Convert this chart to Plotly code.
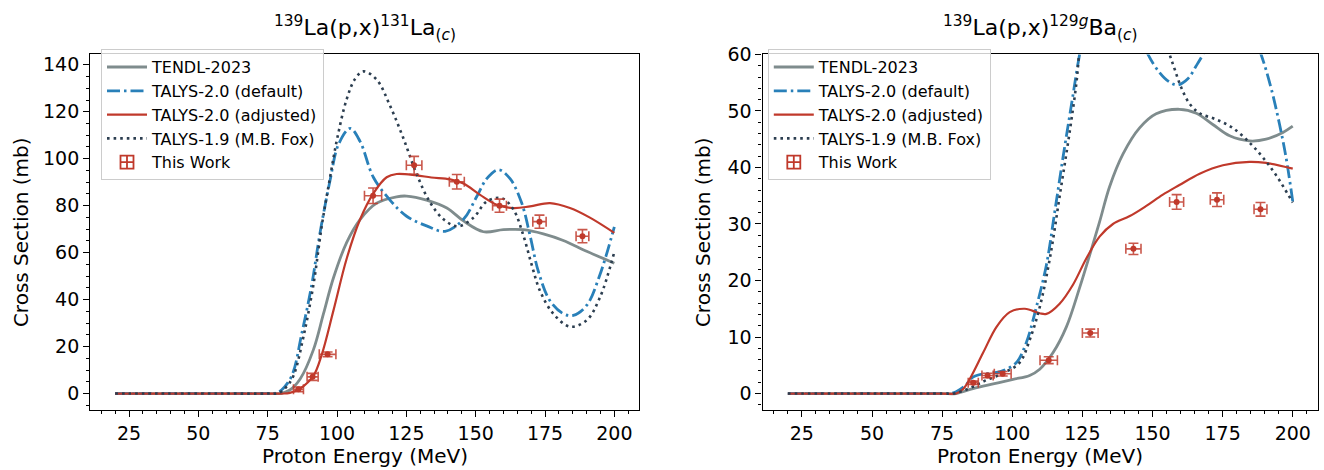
import plotly.graph_objects as go

# ---------------- measured cross sections (This Work) ----------------
energy = [86.1, 91.2, 96.6, 113.0, 127.8, 143.2, 158.6, 173.0, 188.5]
energy_err = [1.8, 2.0, 3.0, 3.1, 2.8, 2.7, 2.5, 2.4, 2.3]

la131_xs = [1.8, 7.1, 16.7, 84.2, 97.2, 90.2, 80.0, 73.2, 67.0]
la131_err = [1.0, 1.5, 1.0, 3.3, 3.8, 3.1, 2.8, 2.8, 2.8]

ba129_xs = [1.9, 3.2, 3.5, 5.9, 10.7, 25.6, 33.9, 34.3, 32.6]
ba129_err = [0.3, 0.4, 0.4, 0.6, 0.7, 1.0, 1.3, 1.2, 1.2]

# ---------------- model curves: 139La(p,x)131La ----------------
la_tendl_e = [20, 40, 60, 75, 80, 83, 86.7, 91.5, 95.1, 98.7, 103.5, 108.3, 114.3,
              121.5, 125.1, 132.3, 139.6, 145.6, 152.8, 160, 167.2, 174.4, 181.6, 190, 200]
la_tendl_xs = [0, 0, 0, 0, 0.1, 1.5, 6.2, 18.7, 33.9, 49.2, 64.4, 74.1, 81.1,
               83.8, 84.1, 82.4, 79, 73.5, 68.9, 69.8, 69.8, 68, 65.2, 60.6, 55.5]

la_def_e = [20, 40, 60, 75, 78, 80, 83.7, 87.3, 90.9, 93.9, 97.5, 100.5, 104.7, 108.3,
            113.1, 119.1, 125.1, 132.3, 139, 145.6, 150.4, 154, 158.2, 162.4, 166.6,
            169.6, 172.6, 176.8, 181.6, 185.2, 190, 194.8, 200]
la_def_xs = [0, 0, 0, 0, 0.2, 1.5, 7.6, 25.6, 46.4, 68.6, 90.8, 106, 112.9, 107.4,
             92.1, 82.4, 75.5, 71.4, 69.1, 74.2, 83.9, 91.5, 95.3, 91.5, 81.1,
             67.3, 52, 39.5, 34, 33.3, 37.5, 50.6, 71]

la_adj_e = [20, 40, 60, 75, 80, 83, 86.7, 91.5, 94.5, 98.7, 103.5, 108.3, 113.1, 117.9,
            121.5, 128.7, 134, 140.8, 145.6, 151.6, 157.6, 163.6, 169.6, 176.8, 184, 191.2, 200]
la_adj_xs = [0, 0, 0, 0, 0, 0.3, 2.1, 7.6, 16.6, 35.3, 57.5, 74.1, 85.2, 92.1,
             93.5, 92.9, 92.0, 91.2, 89.4, 84.6, 80.4, 79, 79.7, 81.1, 79, 74.9, 68.4]

la_fox_e = [20, 40, 60, 75, 79, 81.5, 84.3, 87.9, 91.5, 94.5, 97.5, 100.1, 103.5, 106.5,
            109.5, 114.3, 119.1, 123.9, 128.7, 133.5, 138.4, 143.5, 149.2, 154, 159.4,
            163.6, 167.2, 170.2, 173.2, 178, 184, 190, 194.8, 200]
la_fox_xs = [0, 0, 0, 0, 0.2, 2.5, 7.6, 24.2, 46.4, 71.4, 92.1, 108.8, 125.4, 134,
             137.2, 133.7, 122.6, 108.8, 93.5, 81.5, 74.2, 71.2, 74.9, 81.8, 83.2,
             78.4, 67.3, 54.8, 43.7, 34, 28.5, 31.2, 40.9, 60.3]

# ---------------- model curves: 139La(p,x)129gBa ----------------
ba_tendl_e = [20, 40, 60, 75, 80, 86, 93.2, 100.3, 106.2, 109.8, 114.5, 119.3, 124,
              127.6, 131.2, 134.7, 139.5, 145.4, 151.3, 159.6, 165.6, 171.5, 177.5,
              184.6, 190.5, 196.5, 200]
ba_tendl_xs = [0, 0, 0, 0, 0, 0.86, 1.7, 2.5, 3.2, 4.3, 7.2, 11.8, 18.7,
               24.5, 30.5, 36.6, 42.4, 47, 49.5, 50.3, 49.6, 47.6, 45.6,
               44.7, 45, 46.2, 47.3]

ba_def_e = [20, 40, 60, 75, 78, 80, 83, 86, 89.6, 93, 97, 101.5, 105, 108.6, 112.2,
            115.1, 118.1, 121.1, 124, 127, 130, 134, 137, 140, 145, 148.4, 152.5,
            156.1, 159, 162.6, 165.6, 168, 172, 176, 180, 184, 188.7, 192.3, 195.3,
            197.6, 200]
ba_def_xs = [0, 0, 0, 0, 0, 0.3, 1.3, 2.9, 3.45, 3.6, 4.1, 5.5, 9.0, 15.3, 22.8,
             32, 41.8, 51.1, 60, 67.5, 72, 74, 73, 70, 64.3, 60, 56.8,
             55.1, 54.6, 55.7, 58, 60, 63.9, 66.5, 67.2, 65.6, 60, 54, 47.6,
             41.8, 34]

ba_adj_e = [20, 40, 60, 75, 80, 82.5, 84.9, 89.6, 94.4, 99.1, 104.5, 109.8, 112.2,
            116.9, 121.7, 126.4, 131.2, 135.9, 141.9, 147.8, 153.7, 159.6, 166.8,
            175.1, 184.6, 190.5, 200]
ba_adj_xs = [0, 0, 0, 0, 0, 0.8, 2.6, 7.2, 11.8, 14.4, 15.0, 14.2, 14.1,
             15.9, 19.3, 23.9, 27.8, 30, 31.4, 33.2, 35.2, 36.9, 38.9,
             40.4, 41, 40.8, 39.8]

ba_fox_e = [20, 40, 60, 75, 79, 82, 86, 90, 94, 98, 102.7, 106.3, 109.8, 113.4, 116.9,
            120.5, 122.9, 124, 127, 130, 134, 138, 142, 146, 150, 153, 156.1, 157.9,
            160.2, 163.2, 166.8, 172.7, 178.6, 184.6, 189.3, 194.1, 200]
ba_fox_xs = [0, 0, 0, 0, 0, 0.4, 1.2, 2.2, 3.0, 3.9, 5.5, 9.6, 15.3, 23.9, 34.9,
             46.4, 55.1, 60.9, 72.6, 81.1, 86.8, 87.1, 83.7, 77.7, 70.4, 65, 60, 57.4,
             54.2, 51.3, 49.6, 48.5, 47, 44.4, 41.8, 38.6, 33.8]

# ---------------- styling ----------------
FONT = "DejaVu Sans"
GREY = "#7f8c8d"
BLUE = "#2980b9"
RED = "#c0392b"
NAVY = "#2c3e50"
ERR_RED = "rgba(192,57,43,0.85)"

W, H = 1324, 470

panels = [
    dict(xa="x", ya="y", legend="legend",
         curves=[(la_tendl_e, la_tendl_xs), (la_def_e, la_def_xs),
                 (la_adj_e, la_adj_xs), (la_fox_e, la_fox_xs)],
         xs=la131_xs, err=la131_err),
    dict(xa="x2", ya="y2", legend="legend2",
         curves=[(ba_tendl_e, ba_tendl_xs), (ba_def_e, ba_def_xs),
                 (ba_adj_e, ba_adj_xs), (ba_fox_e, ba_fox_xs)],
         xs=ba129_xs, err=ba129_err),
]

curve_styles = [
    ("TENDL-2023", dict(color=GREY, width=2.8)),
    ("TALYS-2.0 (default)", dict(color=BLUE, width=2.8, dash="13px,4px,2.5px,4px")),
    ("TALYS-2.0 (adjusted)", dict(color=RED, width=2.2)),
    ("TALYS-1.9 (M.B. Fox)", dict(color=NAVY, width=2.6, dash="2.6px,4px")),
]

fig = go.Figure()
for p in panels:
    for (name, style), (e, xs) in zip(curve_styles, p["curves"]):
        fig.add_trace(go.Scatter(
            x=e, y=xs, mode="lines", name=name,
            line=dict(shape="spline", smoothing=1.0, **style),
            xaxis=p["xa"], yaxis=p["ya"], legend=p["legend"],
        ))
    # measured points with energy and cross-section uncertainties
    fig.add_trace(go.Scatter(
        x=energy, y=p["xs"], mode="markers", name="This Work", showlegend=False,
        marker=dict(symbol="circle", size=6, color=RED),
        error_x=dict(type="data", array=energy_err, color=ERR_RED, thickness=1.6, width=5),
        error_y=dict(type="data", array=p["err"], color=ERR_RED, thickness=1.6, width=5),
        xaxis=p["xa"], yaxis=p["ya"],
    ))
    # legend entry for the measured data
    fig.add_trace(go.Scatter(
        x=[None], y=[None], mode="markers", name="This Work",
        marker=dict(symbol="square-cross-open", size=13, color=RED, line=dict(width=1.8)),
        xaxis=p["xa"], yaxis=p["ya"], legend=p["legend"],
    ))

# plot-area placement (pixels)
left_px = (90.2, 639.3)
right_px = (762.6, 1318.0)
top_px, bottom_px = 44.5, 408.3
ydom = [(H - bottom_px) / H, (H - top_px) / H]

axis_common = dict(
    showline=True, linecolor="black", linewidth=1.3, mirror=True,
    ticks="outside", ticklen=6, tickwidth=1.3, tickcolor="black",
    showgrid=False, zeroline=False,
    tickfont=dict(family=FONT, size=19, color="black"),
)

legend_common = dict(
    xanchor="left", yanchor="top", y=(H - 39) / H,
    bgcolor="rgba(255,255,255,0.8)", bordercolor="#cccccc", borderwidth=1,
    font=dict(family=FONT, size=16, color="black"), tracegroupgap=0, itemwidth=40,
)

fig.update_layout(
    width=W, height=H,
    margin=dict(l=0, r=0, t=0, b=0),
    paper_bgcolor="white", plot_bgcolor="white",
    font=dict(family=FONT, color="black"),
    showlegend=True,
    xaxis=dict(domain=[left_px[0] / W, left_px[1] / W], anchor="y",
               range=[11, 209], tick0=0, dtick=25,
               minor=dict(dtick=5, ticklen=3.5, tickwidth=1.1, tickcolor="black", ticks="outside"),
               **axis_common),
    yaxis=dict(domain=ydom, anchor="x", range=[-6.9, 144.4], tick0=0, dtick=20,
               minor=dict(dtick=5, ticklen=3.5, tickwidth=1.1, tickcolor="black", ticks="outside"),
               **axis_common),
    xaxis2=dict(domain=[right_px[0] / W, right_px[1] / W], anchor="y2",
                range=[11, 209], tick0=0, dtick=25,
                minor=dict(dtick=5, ticklen=3.5, tickwidth=1.1, tickcolor="black", ticks="outside"),
                **axis_common),
    yaxis2=dict(domain=ydom, anchor="x2", range=[-2.87, 60], tick0=0, dtick=10,
                minor=dict(dtick=2, ticklen=3.5, tickwidth=1.1, tickcolor="black", ticks="outside"),
                **axis_common),
    legend=dict(x=101 / W, **legend_common),
    legend2=dict(x=767.8 / W, **legend_common),
)

titles = [
    "<sup>139</sup>La(p,x)<sup>131</sup>La<sub>(<i>c</i>)</sub>",
    "<sup>139</sup>La(p,x)<sup>129<i>g</i></sup>Ba<sub>(<i>c</i>)</sub>",
]
for (x0, x1), title, ylab_x in zip([left_px, right_px], titles, [21, 703]):
    cx = (x0 + x1) / 2 / W
    fig.add_annotation(text=title, x=cx, y=ydom[1], xref="paper", yref="paper",
                       xanchor="center", yanchor="bottom", yshift=8, showarrow=False,
                       font=dict(family=FONT, size=22, color="black"))
    fig.add_annotation(text="Proton Energy (MeV)", x=cx, y=(H - 456) / H,
                       xref="paper", yref="paper", xanchor="center", yanchor="middle",
                       showarrow=False, font=dict(family=FONT, size=20, color="black"))
    fig.add_annotation(text="Cross Section (mb)", x=ylab_x / W,
                       y=(H - (top_px + bottom_px) / 2) / H,
                       xref="paper", yref="paper", xanchor="center", yanchor="middle",
                       textangle=-90, showarrow=False,
                       font=dict(family=FONT, size=20, color="black"))

fig.write_html("out.html")
